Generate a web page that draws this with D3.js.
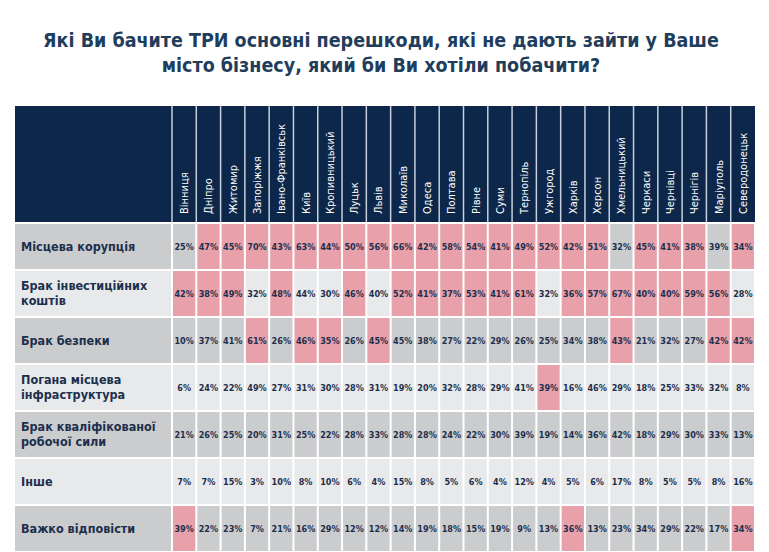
<!DOCTYPE html>
<html><head><meta charset="utf-8">
<script src="https://cdn.jsdelivr.net/npm/d3@7"></script>
<style>body{margin:0;background:#fff}</style>
</head><body><div id="chart"></div>
<script>
// Data
const cities = ["Вінниця","Дніпро","Житомир","Запоріжжя","Івано-Франківськ","Київ","Кропивницький","Луцьк","Львів","Миколаїв","Одеса","Полтава","Рівне","Суми","Тернопіль","Ужгород","Харків","Херсон","Хмельницький","Черкаси","Чернівці","Чернігів","Маріуполь","Северодонецьк"];
const barriers = [["Місцева корупція"],["Брак інвестиційних","коштів"],["Брак безпеки"],["Погана місцева","інфраструктура"],["Брак кваліфікованої","робочої сили"],["Інше"],["Важко відповісти"]];
const values = [
  [25,47,45,70,43,63,44,50,56,66,42,58,54,41,49,52,42,51,32,45,41,38,39,34],
  [42,38,49,32,48,44,30,46,40,52,41,37,53,41,61,32,36,57,67,40,40,59,56,28],
  [10,37,41,61,26,46,35,26,45,45,38,27,22,29,26,25,34,38,43,21,32,27,42,42],
  [6,24,22,49,27,31,30,28,31,19,20,32,28,29,41,39,16,46,29,18,25,33,32,8],
  [21,26,25,20,31,25,22,28,33,28,28,24,22,30,39,19,14,36,42,18,29,30,33,13],
  [7,7,15,3,10,8,10,6,4,15,8,5,6,4,12,4,5,6,17,8,5,5,8,16],
  [39,22,23,7,21,16,29,12,12,14,19,18,15,19,9,13,36,13,23,34,29,22,17,34]
];
const highlight = [
  [0,1,1,1,1,1,1,1,1,1,1,1,1,1,1,1,1,1,0,1,1,1,0,1],
  [1,1,1,0,1,0,0,1,0,1,1,1,1,1,1,0,1,1,1,1,1,1,1,0],
  [0,0,0,1,0,1,1,0,1,0,0,0,0,0,0,0,0,0,1,0,0,0,1,1],
  [0,0,0,0,0,0,0,0,0,0,0,0,0,0,0,1,0,0,0,0,0,0,0,0],
  [0,0,0,0,0,0,0,0,0,0,0,0,0,0,0,0,0,0,0,0,0,0,0,0],
  [0,0,0,0,0,0,0,0,0,0,0,0,0,0,0,0,0,0,0,0,0,0,0,0],
  [1,0,0,0,0,0,0,0,0,0,0,0,0,0,0,0,1,0,0,0,0,0,0,1]
];

const W = 769, H = 552;
const left = 15, labelW = 157, right = 755;
const headTop = 106, headBot = 222, rowsTop = 224, rowH = 47;

const svg = d3.select("#chart").append("svg").attr("width", W).attr("height", H);

// title
svg.append("text").attr("x", 381).attr("y", 47).attr("text-anchor", "middle")
  .style("font-family", "'DejaVu Sans Condensed', 'Liberation Sans Narrow', sans-serif")
  .style("font-weight", "bold").style("font-size", "19.5px").attr("fill", "#1f3d5c")
  .selectAll("tspan").data(["Які Ви бачите ТРИ основні перешкоди, які не дають зайти у Ваше", "місто бізнесу, який би Ви хотіли побачити?"])
  .join("tspan").attr("x", 381).attr("dy", (d, i) => i ? 25 : 0).text(d => d);

const x = d3.scaleBand().domain(cities).range([left + labelW, right]);
const y = d3.scaleBand().domain(d3.range(barriers.length)).range([rowsTop, rowsTop + rowH * barriers.length]);

// header
svg.append("rect").attr("x", left).attr("y", headTop).attr("width", right - left).attr("height", headBot - headTop).attr("fill", "#0c2749");
svg.selectAll(".vline").data(cities).join("line")
  .attr("x1", d => x(d)).attr("x2", d => x(d)).attr("y1", headTop).attr("y2", headBot)
  .attr("stroke", "#c7d0dc").attr("stroke-width", 1.5);
svg.selectAll(".city").data(cities).join("text")
  .attr("transform", d => `translate(${x(d) + x.bandwidth() / 2 + 4},${headBot - 8}) rotate(-90)`)
  .style("font-family", "'DejaVu Sans Condensed', sans-serif").style("font-size", "11px")
  .attr("fill", "#fff").text(d => d);

// rows
const bg = i => i % 2 === 0 ? "#cbccce" : "#e8e9eb";
barriers.forEach((lab, i) => {
  const g = svg.append("g");
  g.append("rect").attr("x", left).attr("y", y(i)).attr("width", labelW - 1).attr("height", rowH - 2).attr("fill", bg(i));
  g.append("text").attr("x", left + 6).attr("y", y(i) + rowH / 2 - 1 - (lab.length - 1) * 7.5 + 4)
    .style("font-family", "'DejaVu Sans Condensed', sans-serif").style("font-weight", "bold").style("font-size", "12.5px")
    .attr("fill", "#1c2f4c")
    .selectAll("tspan").data(lab).join("tspan").attr("x", left + 6).attr("dy", (d, k) => k ? 15 : 0).text(d => d);
  g.selectAll(".cell").data(values[i]).join("rect")
    .attr("x", (d, j) => x(cities[j]) + 1).attr("y", y(i)).attr("width", x.bandwidth() - 2).attr("height", rowH - 2)
    .attr("fill", (d, j) => highlight[i][j] ? "#e8a0aa" : bg(i));
  g.selectAll(".val").data(values[i]).join("text")
    .attr("x", (d, j) => x(cities[j]) + x.bandwidth() / 2).attr("y", y(i) + rowH / 2 + 2)
    .attr("text-anchor", "middle")
    .style("font-family", "'DejaVu Sans Condensed', sans-serif").style("font-weight", "bold").style("font-size", "9px")
    .attr("fill", "#1c2f4c").text(d => d + "%");
});
</script></body></html>
